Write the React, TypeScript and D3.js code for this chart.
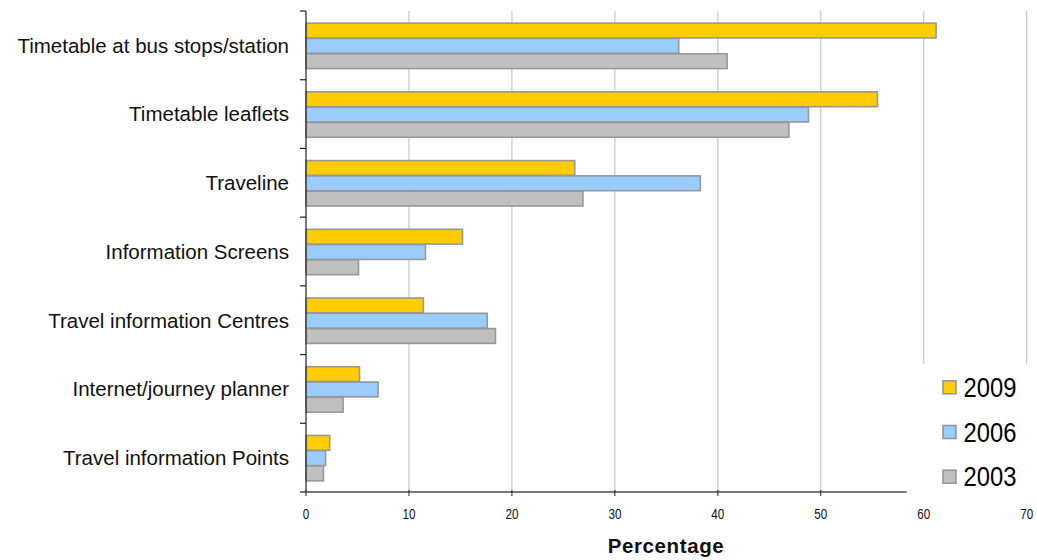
import React from "react";
import * as d3 from "d3";

const categories = [
  "Timetable at bus stops/station",
  "Timetable leaflets",
  "Traveline",
  "Information Screens",
  "Travel information Centres",
  "Internet/journey planner",
  "Travel information Points",
];
const seriesNames = ["2009", "2006", "2003"];
const values2009 = [61.2, 55.5, 26.1, 15.2, 11.4, 5.2, 2.3];
const values2006 = [36.2, 48.8, 38.3, 11.6, 17.6, 7.0, 1.9];
const values2003 = [40.9, 46.9, 26.9, 5.1, 18.4, 3.6, 1.7];
const xTicks = [0, 10, 20, 30, 40, 50, 60, 70];
const xAxisTitle = "Percentage";

const colors: Record<string, string> = { "2009": "#FFCC00", "2006": "#99CCFF", "2003": "#C0C0C0" };
const FONT = "'Liberation Sans', Arial, sans-serif";

export default function App() {
  const W = 1037, H = 560;
  const x = d3.scaleLinear().domain([0, 70]).range([306, 1026.7]);
  const y = d3.scaleBand<string>().domain(categories).range([11, 492]).padding(0);
  const inner = d3.scaleBand<string>().domain(seriesNames).range([0, y.bandwidth()]).paddingInner(0).paddingOuter(0.745);
  const seriesVals: Record<string, number[]> = { "2009": values2009, "2006": values2006, "2003": values2003 };
  const boundaries = d3.range(categories.length + 1).map((i) => 11 + i * y.step());

  return (
    <svg width={W} height={H} style={{ position: "absolute", left: 0, top: 0, background: "#fff" }} fontFamily={FONT}>
      <rect x={0} y={0} width={W} height={H} fill="#fff" />
      {/* gridlines */}
      {xTicks.filter((t) => t > 0).map((t) => (
        <line key={"g" + t} x1={x(t)} x2={x(t)} y1={11} y2={492} stroke="#c8c8c8" strokeWidth={1.2} />
      ))}
      {/* bars */}
      {categories.map((c, i) => (
        <g key={c}>
          {seriesNames.map((s) => {
            const v = seriesVals[s][i];
            const yy = (y(c) as number) + (inner(s) as number);
            return (
              <rect key={s} x={x(0)} y={yy + 0.75} width={x(v) - x(0)} height={inner.bandwidth() - 0.5}
                fill={colors[s]} stroke="#989898" strokeWidth={1.6} />
            );
          })}
        </g>
      ))}
      {/* y axis */}
      <line x1={306} x2={306} y1={11} y2={492} stroke="#222" strokeWidth={1.2} />
      {boundaries.map((b, i) => (
        <line key={"yt" + i} x1={300} x2={306} y1={b} y2={b} stroke="#222" strokeWidth={1.2} />
      ))}
      {categories.map((c) => (
        <text key={"l" + c} x={289} y={(y(c) as number) + y.bandwidth() / 2} dy="0.36em" textAnchor="end"
          fontSize={20.5} fill="#111">{c}</text>
      ))}
      {/* legend background */}
      <rect x={910} y={364} width={127} height={140} fill="#fff" />
      {/* x axis */}
      <line x1={300} x2={906.5} y1={492} y2={492} stroke="#777" strokeWidth={2} />
      {xTicks.filter((t) => t <= 50).map((t) => (
        <line key={"xt" + t} x1={x(t)} x2={x(t)} y1={490} y2={496} stroke="#222" strokeWidth={1} />
      ))}
      {xTicks.map((t) => (
        <text key={"xl" + t} transform={`translate(${x(t)},519) scale(0.78,1)`} textAnchor="middle" fontSize={15} fill="#111">{t}</text>
      ))}
      <text x={666} y={553} textAnchor="middle" fontSize={20.5} fontWeight="bold" letterSpacing={0.6} fill="#111">{xAxisTitle}</text>
      {/* legend */}
      {seriesNames.map((s, i) => {
        const cy = 387.3 + i * 44.7;
        return (
          <g key={"lg" + s}>
            <rect x={943} y={cy - 6.5} width={13} height={13} fill={colors[s]} stroke="#989898" strokeWidth={1.6} />
            <text transform={`translate(963.5,${cy + 9.7}) scale(0.88,1)`} fontSize={27} fill="#000">{s}</text>
          </g>
        );
      })}
    </svg>
  );
}
